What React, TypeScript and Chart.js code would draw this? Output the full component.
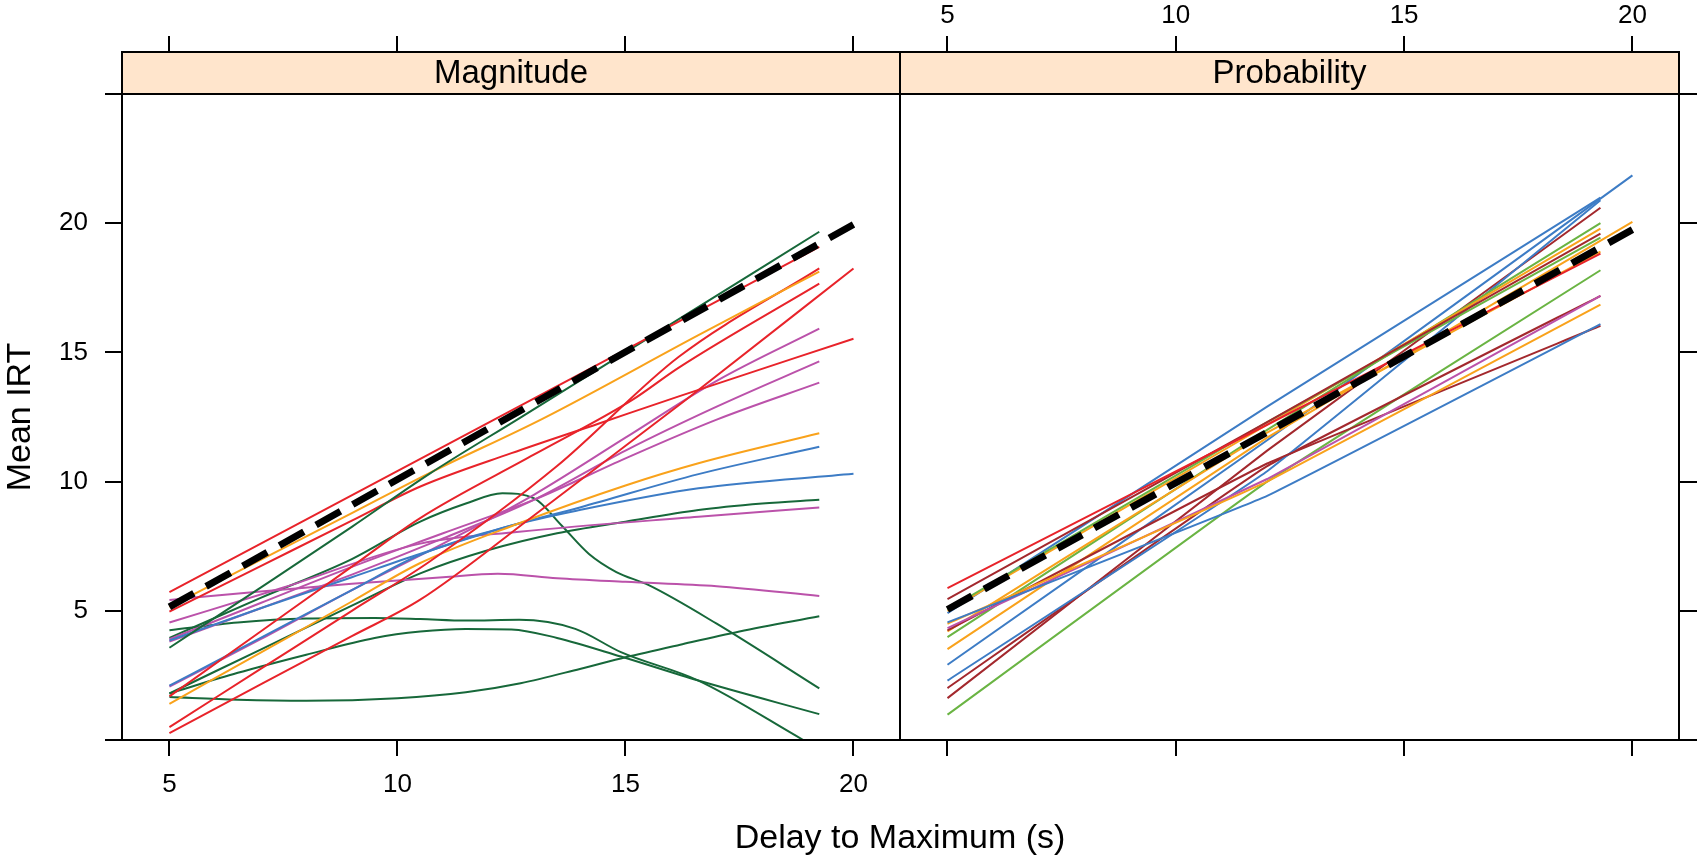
import React, { useEffect, useRef } from "react";
import { Chart, registerables } from "chart.js";
Chart.register(...registerables);

const FONT = '"Liberation Sans", Arial, Helvetica, sans-serif';
const W = 1697;
const H = 859;
const SPLIT = 900;
const STRIP_TOP = 52;
const TOP_AXIS_H = 94;
const BOTTOM_AXIS_H = 119;
const LEFT_AXIS_W = 122;
const RIGHT_AXIS_W = 18;

// ---- axes / text ----
const panelNames = ["Magnitude", "Probability"];
const xTitle = "Delay to Maximum (s)";
const yTitle = "Mean IRT";
const xTicks = [5, 10, 15, 20];
const yTicks = [0, 5, 10, 15, 20, 25];
const yLabelled = [5, 10, 15, 20];
const xRange = [3.96, 21.02];
const yRange = [0, 25];

// ---- colours ----
const RED = "#E8232A";
const ORANGE = "#F9A21B";
const MAGENTA = "#BB52AA";
const BLUE = "#3D7CC5";
const DKGREEN = "#17683A";
const LIME = "#6AB443";
const BROWN = "#A3282D";

// ---- reference (dashed) lines ----
const magRefX = [5, 20];
const magRefY = [5.15, 19.95];
const probRefX = [5, 20];
const probRefY = [5.05, 19.75];

// ---- Magnitude panel series ----
const magR1X = [5, 19.25];
const magR1Y = [5.72, 19.08];
const magG1X = [5, 7, 9, 10.7, 12.67, 16.02, 19.25];
const magG1Y = [3.57, 5.9, 8.25, 10.3, 12.45, 16.12, 19.67];
const magO1X = [5, 7, 9, 10.7, 13.2, 16.6, 19.25];
const magO1Y = [5.15, 6.97, 8.78, 10.33, 12.45, 15.67, 18.13];
const magR2X = [5, 7, 9, 10.49, 12.5, 14.42, 16.17, 20];
const magR2Y = [4.97, 6.73, 8.49, 9.8, 11.1, 12.25, 13.3, 15.53];
const magR3X = [5, 7, 9, 10.49, 13, 15.15, 16.17, 19.25];
const magR3Y = [1.69, 4.2, 6.71, 8.58, 11.05, 13.16, 14.41, 17.66];
const magR4X = [5, 7, 9, 10.7, 13.5, 16.17, 19.25];
const magR4Y = [0.5, 2.75, 5.0, 6.9, 10.6, 14.83, 18.25];
const magR5X = [5, 7, 9, 10.49, 13, 16.32, 20];
const magR5Y = [0.27, 2.15, 4.02, 5.42, 8.7, 13.16, 18.25];
const magO2X = [5, 7, 9, 10.49, 12.67, 15, 16.6, 19.25];
const magO2Y = [1.4, 3.38, 5.36, 6.84, 8.39, 9.85, 10.71, 11.87];
const magB1X = [5, 7, 9, 10.49, 12.5, 14, 16.6, 19.25];
const magB1Y = [3.85, 5.1, 6.3, 7.2, 8.3, 9.0, 10.29, 11.35];
const magB2X = [5, 7, 9, 10.49, 12.5, 14, 16.6, 20];
const magB2Y = [2.1, 3.95, 5.8, 7.16, 8.3, 8.9, 9.74, 10.3];
const magM1X = [5, 7, 9, 11, 12.2, 13.5, 15, 17, 19.25];
const magM1Y = [5.42, 5.75, 6.05, 6.3, 6.43, 6.26, 6.12, 5.95, 5.57];
const magM2X = [5, 7.5, 10.5, 12.67, 16.6, 19.25];
const magM2Y = [4.55, 5.9, 7.6, 8.06, 8.64, 9.0];
const magM345X = [5, 7, 9, 11, 13, 15, 17, 19.25];
const magM3Y = [3.9, 5.3, 6.7, 8.0, 9.3, 10.9, 12.4, 13.83];
const magM4Y = [3.81, 5.1, 6.4, 7.8, 9.3, 11.2, 12.9, 14.65];
const magM5Y = [2.07, 3.9, 5.8, 7.6, 9.5, 11.7, 13.9, 15.92];
const magG2X = [5, 7, 9, 10.5, 11.5, 12.3, 13, 13.6, 14.2, 14.8, 15.5, 17, 19.25];
const magG2Y = [3.95, 5.5, 7.0, 8.45, 9.15, 9.55, 9.35, 8.3, 7.2, 6.5, 6.0, 4.5, 2.0];
const magG3X = [5, 7, 9, 10.5, 12, 13.5, 15, 16.6, 18, 19.25];
const magG3Y = [1.8, 3.5, 5.2, 6.45, 7.35, 8.0, 8.45, 8.9, 9.15, 9.3];
const magG4X = [5, 6.5, 8, 9.5, 10.5, 11.5, 12.5, 13.5, 14.9, 16.6, 19.25];
const magG4Y = [1.8, 2.6, 3.3, 3.95, 4.2, 4.3, 4.28, 3.95, 3.23, 2.3, 1.0];
const magG5X = [5, 6.5, 8, 10, 11.5, 12.7, 14, 15, 16.2, 17.5, 19.25];
const magG5Y = [1.66, 1.56, 1.52, 1.62, 1.85, 2.2, 2.75, 3.2, 3.69, 4.2, 4.79];
const magG6X = [5, 6.5, 8, 9.5, 10.5, 11.5, 12.67, 13.9, 14.9, 16.6, 18.9, 19.25];
const magG6Y = [4.25, 4.55, 4.7, 4.72, 4.68, 4.62, 4.65, 4.3, 3.4, 2.3, 0.0, -0.35];

// ---- Probability panel series ----
const probX = [5, 12, 19.3];
const probX20 = [5, 12, 20];
const probRedY = [5.88, 12.2, 18.82];
const probBrown1Y = [5.45, 12.3, 19.6];
const probGreen1Y = [5.05, 12.3, 19.44];
const probOrange1Y = [5.0, 12.2, 19.79];
const probBlue1Y = [4.91, 12.9, 20.99];
const probBlue2Y = [4.55, 9.45, 16.09];
const probOrange2Y = [4.5, 10.0, 16.85];
const probMagentaY = [4.33, 10.1, 17.19];
const probBrown2Y = [4.24, 10.7, 16.03];
const probOrange3Y = [4.2, 11.9, 18.9];
const probGreen2Y = [3.98, 12.0, 20.0];
const probOrange4Y = [3.52, 11.7, 20.05];
const probBlue3Y = [2.91, 11.6, 21.85];
const probBlue4Y = [2.3, 10.4, 20.89];
const probBrown3Y = [2.01, 10.6, 17.19];
const probBrown4Y = [1.62, 11.2, 20.6];
const probGreen3Y = [0.98, 10.0, 18.18];

type Series = { x: number[]; y: number[]; color: string };

const magSeries: Series[] = [
  { x: magR1X, y: magR1Y, color: RED },
  { x: magG1X, y: magG1Y, color: DKGREEN },
  { x: magO1X, y: magO1Y, color: ORANGE },
  { x: magR2X, y: magR2Y, color: RED },
  { x: magR3X, y: magR3Y, color: RED },
  { x: magR4X, y: magR4Y, color: RED },
  { x: magR5X, y: magR5Y, color: RED },
  { x: magO2X, y: magO2Y, color: ORANGE },
  { x: magB1X, y: magB1Y, color: BLUE },
  { x: magB2X, y: magB2Y, color: BLUE },
  { x: magM1X, y: magM1Y, color: MAGENTA },
  { x: magM2X, y: magM2Y, color: MAGENTA },
  { x: magM345X, y: magM3Y, color: MAGENTA },
  { x: magM345X, y: magM4Y, color: MAGENTA },
  { x: magM345X, y: magM5Y, color: MAGENTA },
  { x: magG2X, y: magG2Y, color: DKGREEN },
  { x: magG3X, y: magG3Y, color: DKGREEN },
  { x: magG4X, y: magG4Y, color: DKGREEN },
  { x: magG5X, y: magG5Y, color: DKGREEN },
  { x: magG6X, y: magG6Y, color: DKGREEN },
];

const probSeries: Series[] = [
  { x: probX, y: probRedY, color: RED },
  { x: probX, y: probBrown1Y, color: BROWN },
  { x: probX, y: probGreen1Y, color: LIME },
  { x: probX, y: probOrange1Y, color: ORANGE },
  { x: probX, y: probBlue1Y, color: BLUE },
  { x: probX, y: probBlue2Y, color: BLUE },
  { x: probX, y: probOrange2Y, color: ORANGE },
  { x: probX, y: probMagentaY, color: MAGENTA },
  { x: probX, y: probBrown2Y, color: BROWN },
  { x: probX, y: probOrange3Y, color: ORANGE },
  { x: probX, y: probGreen2Y, color: LIME },
  { x: probX20, y: probOrange4Y, color: ORANGE },
  { x: probX20, y: probBlue3Y, color: BLUE },
  { x: probX, y: probBlue4Y, color: BLUE },
  { x: probX, y: probBrown3Y, color: BROWN },
  { x: probX, y: probBrown4Y, color: BROWN },
  { x: probX, y: probGreen3Y, color: LIME },
];

const pts = (xs: number[], ys: number[]) => xs.map((x, i) => ({ x, y: ys[i] }));

const refDataset = (xs: number[], ys: number[]) => ({
  data: pts(xs, ys),
  borderColor: "#000",
  backgroundColor: "#000",
  borderWidth: 7,
  borderDash: [28, 14],
  borderCapStyle: "butt",
  pointRadius: 0,
  tension: 0,
  order: 0,
});

const lineDataset = (s: Series, smooth: boolean) => ({
  data: pts(s.x, s.y),
  borderColor: s.color,
  backgroundColor: s.color,
  borderWidth: 2,
  pointRadius: 0,
  fill: false,
  ...(smooth ? { cubicInterpolationMode: "monotone" } : { tension: 0.08 }),
  order: 1,
});

const grid = (tickLength: number) => ({
  drawOnChartArea: false,
  drawTicks: true,
  color: "#000",
  tickColor: "#000",
  lineWidth: 2,
  tickWidth: 2,
  tickLength,
});

const xScale = (position: string, tickLength: number, height: number, showLabels: boolean, pad: number) => ({
  type: "linear",
  position,
  min: xRange[0],
  max: xRange[1],
  afterBuildTicks: (s: any) => {
    s.ticks = xTicks.map((v) => ({ value: v }));
  },
  afterFit: (s: any) => {
    s.height = height;
  },
  grid: grid(tickLength),
  border: { display: true, color: "#000", width: 2 },
  ticks: {
    color: "#000",
    font: { family: FONT, size: 26 },
    padding: pad,
    maxRotation: 0,
    minRotation: 0,
    autoSkip: false,
    callback: (v: any) => (showLabels ? String(v) : ""),
  },
});

const yScale = (position: string, width: number, tickLength: number, showLabels: boolean, withTitle: boolean) => ({
  type: "linear",
  position,
  min: yRange[0],
  max: yRange[1],
  afterBuildTicks: (s: any) => {
    s.ticks = yTicks.map((v) => ({ value: v }));
  },
  afterFit: (s: any) => {
    s.width = width;
  },
  grid: grid(tickLength),
  border: { display: true, color: "#000", width: 2 },
  ticks: {
    color: "#000",
    font: { family: FONT, size: 26 },
    padding: 17,
    autoSkip: false,
    callback: (v: any) => (showLabels && yLabelled.includes(Number(v)) ? String(v) : ""),
  },
  title: {
    display: withTitle,
    text: yTitle,
    color: "#000",
    font: { family: FONT, size: 34 },
    padding: { top: 0, bottom: 0 },
  },
});

const panelPlugin = {
  id: "panelDecor",
  afterDraw(chart: any, _args: any, opts: any) {
    const { ctx, chartArea: a } = chart;
    ctx.save();
    ctx.fillStyle = "#FFE5CC";
    ctx.fillRect(a.left, STRIP_TOP, a.right - a.left, a.top - STRIP_TOP);
    ctx.lineWidth = 2;
    ctx.strokeStyle = "#000";
    ctx.strokeRect(a.left, STRIP_TOP, a.right - a.left, a.top - STRIP_TOP);
    ctx.strokeRect(a.left, a.top, a.right - a.left, a.bottom - a.top);
    ctx.fillStyle = "#000";
    ctx.font = `33px ${FONT}`;
    ctx.textAlign = "center";
    ctx.textBaseline = "middle";
    ctx.fillText(opts.label, (a.left + a.right) / 2, (STRIP_TOP + a.top) / 2 + 1);
    if (opts.xTitle) {
      ctx.font = `34px ${FONT}`;
      ctx.fillText(opts.xTitle, opts.xTitleX, opts.xTitleY);
    }
    ctx.restore();
  },
};

export default function App() {
  const refA = useRef<HTMLCanvasElement | null>(null);
  const refB = useRef<HTMLCanvasElement | null>(null);

  useEffect(() => {
    const common = {
      responsive: false,
      maintainAspectRatio: false,
      animation: false,
      devicePixelRatio: 1,
      events: [],
    };
    const chartA = new Chart(refA.current as HTMLCanvasElement, {
      type: "line",
      data: {
        datasets: [refDataset(magRefX, magRefY), ...magSeries.map((s) => lineDataset(s, true))] as any,
      },
      options: {
        ...common,
        layout: { padding: { left: 0, right: W - SPLIT, top: 0, bottom: 0 } },
        plugins: {
          legend: { display: false },
          tooltip: { enabled: false },
          panelDecor: { label: panelNames[0], xTitle, xTitleX: SPLIT, xTitleY: 839 },
        },
        scales: {
          x: xScale("bottom", 16, BOTTOM_AXIS_H, true, 13),
          xTop: xScale("top", 58, TOP_AXIS_H, false, 5),
          y: yScale("left", LEFT_AXIS_W, 17, true, true),
        },
      } as any,
      plugins: [panelPlugin],
    });
    const chartB = new Chart(refB.current as HTMLCanvasElement, {
      type: "line",
      data: {
        datasets: [refDataset(probRefX, probRefY), ...probSeries.map((s) => lineDataset(s, false))] as any,
      },
      options: {
        ...common,
        layout: { padding: { left: 1, right: 0, top: 0, bottom: 0 } },
        plugins: {
          legend: { display: false },
          tooltip: { enabled: false },
          panelDecor: { label: panelNames[1] },
        },
        scales: {
          x: xScale("bottom", 16, BOTTOM_AXIS_H, false, 13),
          xTop: xScale("top", 58, TOP_AXIS_H, true, 5),
          y: yScale("right", RIGHT_AXIS_W, 18, false, false),
        },
      } as any,
      plugins: [panelPlugin],
    });
    return () => {
      chartA.destroy();
      chartB.destroy();
    };
  }, []);

  return (
    <div style={{ position: "absolute", left: 0, top: 0, width: W, height: H, background: "#fff", overflow: "hidden" }}>
      <canvas ref={refA} width={W} height={H} style={{ position: "absolute", left: 0, top: 0 }} />
      <canvas
        ref={refB}
        width={W - SPLIT + 1}
        height={H}
        style={{ position: "absolute", left: SPLIT - 1, top: 0 }}
      />
    </div>
  );
}
